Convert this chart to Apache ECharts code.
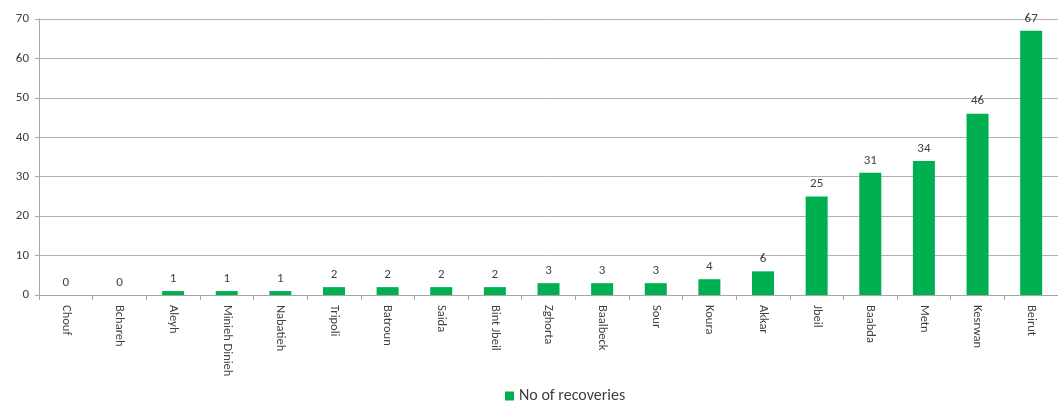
<!DOCTYPE html>
<html><head><meta charset="utf-8">
<script src="https://cdn.jsdelivr.net/npm/echarts@6/dist/echarts.min.js"></script>
<style>html,body{margin:0;padding:0;background:#fff}#c{width:1058px;height:401px}</style>
</head><body><div id="c"></div>
<script>
const categories = ["Chouf","Bchareh","Aleyh","Minieh Dinieh","Nabatieh","Tripoli","Batroun","Saida","Bint Jbeil","Zghorta","Baalbeck","Sour","Koura","Akkar","Jbeil","Baabda","Metn","Kesrwan","Beirut"];
const recoveries = [0,0,1,1,1,2,2,2,2,3,3,3,4,6,25,31,34,46,67];
const yTicks = {min:0, max:70, interval:10};
const seriesName = "No of recoveries";

const chart = echarts.init(document.getElementById('c'));
const font = "Carlito, 'Open Sans', sans-serif";
chart.setOption({
  animation:false,
  grid:{left:39,width:1024,top:19,height:276,containLabel:false},
  legend:{top:383,left:500,itemWidth:9,itemHeight:9,itemGap:6,icon:'rect',
    textStyle:{fontFamily:font,fontSize:16,color:'#404040'},data:[seriesName]},
  xAxis:{type:'category',data:categories,
    axisLine:{lineStyle:{color:'#a6a6a6'}},
    axisTick:{show:true,alignWithLabel:false,length:5,lineStyle:{color:'#a6a6a6'}},
    axisLabel:{rotate:-90,interval:0,fontFamily:font,fontSize:12.5,color:'#404040',margin:10}},
  yAxis:{type:'value',min:yTicks.min,max:yTicks.max,interval:yTicks.interval,
    axisLine:{show:true,lineStyle:{color:'#a6a6a6'}},
    axisTick:{show:true,length:4,lineStyle:{color:'#a6a6a6'}},
    splitLine:{lineStyle:{color:'#b3b3b3'}},
    axisLabel:{fontFamily:font,fontSize:13,color:'#404040',margin:10}},
  series:[{name:seriesName,type:'bar',data:recoveries,barWidth:22,
    itemStyle:{color:'#00b050'},
    label:{show:true,position:'top',distance:6,fontFamily:font,fontSize:13,color:'#404040'}}]
});
</script></body></html>
